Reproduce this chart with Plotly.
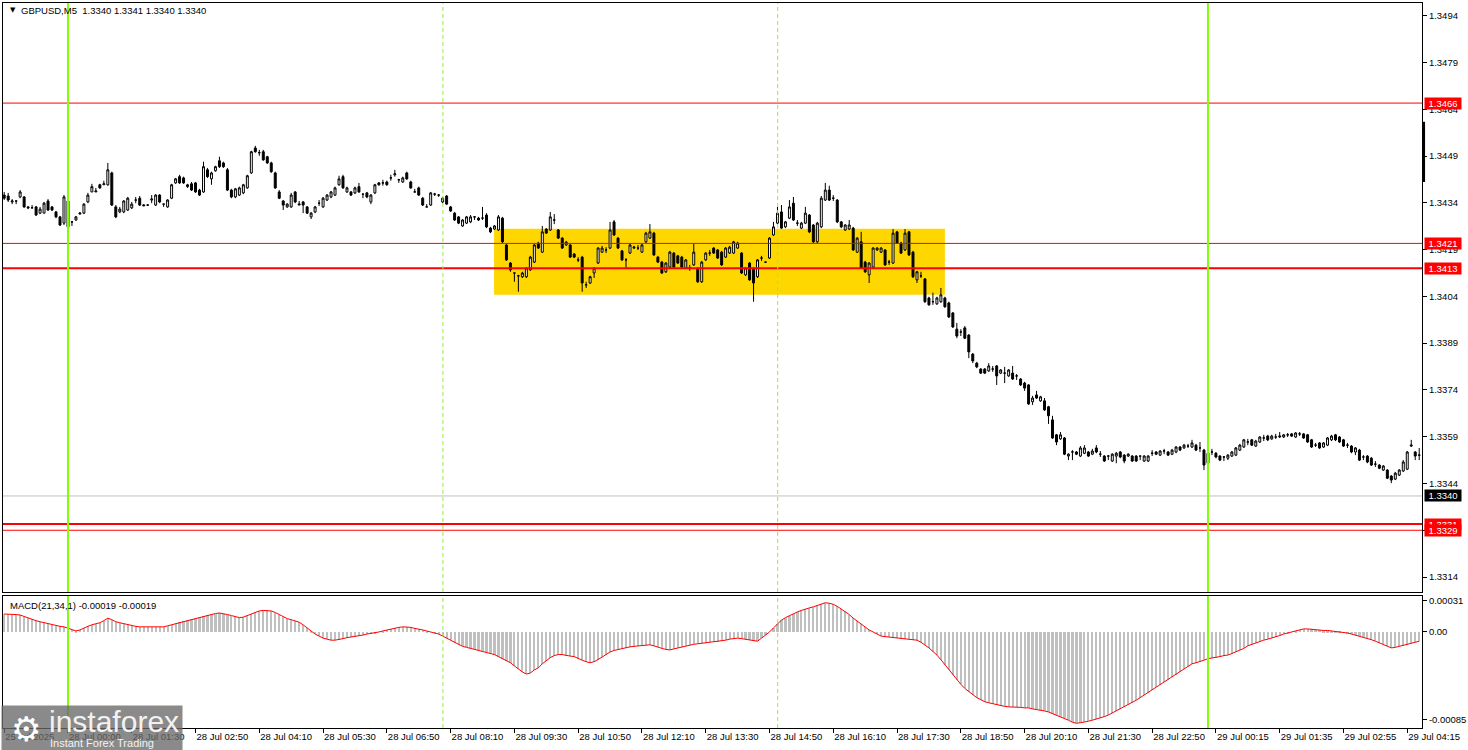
import plotly.graph_objects as go

# ---------------- data (prices in points of 0.00001) ----------------
opens_pts = [
134365,134362,134343,134346,134359,134359,134327,134324,134327,134307,134307,134346,134327,134311,134295,134275,
134346,134279,134285,134304,134307,134343,134375,134375,134398,134398,134398,134436,134327,134311,134311,134317,
134324,134349,134355,134330,134333,134349,134333,134365,134336,134327,134355,134404,134424,134420,134392,134401,
134404,134381,134375,134446,134417,134443,134475,134468,134446,134381,134359,134365,134372,134388,134436,134516,
134501,134504,134488,134468,134436,134375,134346,134327,134327,134375,134333,134343,134327,134295,134311,134339,
134327,134349,134359,134365,134398,134424,134375,134375,134372,134392,134368,134372,134343,134372,134404,134404,
134407,134420,134430,134414,134407,134436,134407,134375,134388,134355,134327,134333,134368,134365,134343,134362,
134327,134307,134295,134266,134275,134279,134295,134291,134291,134301,134259,134256,134253,134291,134205,134147,
134115,134106,134103,134103,134125,134150,134211,134182,134256,134253,134285,134253,134227,134205,134205,134176,
134157,134166,134077,134083,134115,134147,134182,134189,134195,134279,134227,134186,134157,134179,134195,134195,
134182,134215,134227,134243,134166,134150,134119,134134,134179,134170,134166,134131,134131,134141,134131,134087,
134157,134179,134195,134189,134182,134166,134179,134179,134195,134179,134109,134147,134131,134103,134163,134150,
134163,134237,134275,134311,134263,134291,134339,134275,134259,134275,134301,134269,134215,134263,134349,134381,
134355,134349,134279,134253,134256,134259,134182,134215,134150,134109,134134,134189,134182,134189,134150,134147,
134247,134211,134189,134247,134182,134093,134106,134096,134035,134023,134016,134023,134035,134019,133987,133935,
133926,133939,133916,133855,133826,133807,133807,133801,133807,133817,133794,133794,133785,133794,133785,133775,
133762,133756,133702,133724,133705,133705,133686,133644,133596,133583,133586,133528,133541,133541,133528,133537,
133541,133534,133554,133534,133528,133528,133512,133528,133541,133531,133528,133528,133528,133528,133512,133512,
133537,133541,133531,133544,133541,133534,133541,133557,133554,133560,133557,133563,133554,133547,133505,133541,
133537,133528,133525,133521,133528,133531,133547,133557,133573,133580,133560,133573,133586,133592,133583,133589,
133589,133589,133596,133599,133589,133599,133599,133596,133580,133563,133570,133557,133563,133580,133596,133589,
133580,133563,133560,133541,133547,133525,133528,133521,133502,133499,133483,133483,133464,133454,133467,133480,
133486,133560,133541,133531]

highs_pts = [
134375,134372,134352,134346,134381,134362,134330,134333,134330,134327,134343,134352,134330,134314,134298,134365,
134355,134282,134298,134311,134339,134372,134401,134388,134401,134411,134468,134440,134333,134327,134349,134359,
134343,134359,134362,134336,134336,134365,134368,134368,134336,134352,134401,134420,134430,134424,134401,134407,
134407,134385,134472,134452,134440,134459,134488,134472,134452,134385,134388,134392,134401,134430,134507,134523,
134510,134510,134491,134472,134440,134381,134349,134339,134372,134378,134346,134346,134330,134311,134330,134349,
134359,134368,134378,134392,134427,134430,134392,134378,134392,134404,134368,134375,134368,134401,134407,134414,
134411,134430,134446,134417,134424,134440,134411,134385,134392,134359,134336,134375,134372,134368,134359,134365,
134330,134311,134298,134288,134298,134301,134298,134295,134327,134307,134263,134269,134301,134295,134208,134150,
134115,134109,134119,134134,134170,134208,134215,134266,134259,134311,134304,134256,134230,134218,134208,134179,
134166,134170,134087,134106,134134,134198,134202,134198,134279,134285,134230,134189,134163,134211,134202,134205,
134208,134247,134272,134247,134170,134154,134150,134186,134182,134173,134170,134160,134141,134211,134134,134154,
134182,134189,134198,134192,134186,134198,134202,134218,134215,134182,134134,134150,134134,134160,134170,134150,
134230,134279,134327,134333,134282,134349,134359,134285,134279,134327,134304,134272,134279,134362,134404,134395,
134365,134352,134282,134272,134285,134263,134230,134247,134154,134150,134198,134198,134198,134192,134157,134256,
134250,134215,134256,134250,134186,134122,134119,134099,134039,134052,134039,134067,134039,134023,133990,133955,
133935,133945,133919,133858,133830,133810,133810,133826,133817,133820,133807,133814,133807,133817,133791,133778,
133766,133759,133721,133737,133721,133714,133689,133657,133599,133605,133589,133537,133547,133544,133560,133563,
133544,133551,133563,133544,133531,133531,133537,133541,133544,133534,133537,133531,133531,133528,133531,133531,
133547,133544,133547,133551,133544,133551,133560,133560,133567,133567,133580,133567,133573,133551,133541,133551,
133541,133531,133528,133534,133544,133557,133567,133583,133583,133583,133580,133592,133596,133596,133596,133599,
133605,133599,133602,133602,133605,133605,133602,133599,133583,133570,133573,133573,133589,133596,133599,133592,
133583,133570,133563,133557,133551,133531,133531,133525,133512,133502,133499,133486,133467,133477,133486,133515,
133544,133580,133544,133554]

lows_pts = [
134349,134343,134336,134336,134355,134324,134320,134324,134298,134304,134307,134314,134314,134291,134266,134269,
134259,134266,134282,134304,134304,134339,134375,134375,134385,134398,134395,134330,134291,134307,134307,134314,
134320,134339,134330,134330,134330,134339,134330,134339,134327,134324,134352,134401,134401,134401,134388,134378,
134372,134362,134372,134420,134398,134440,134452,134452,134378,134355,134355,134362,134368,134385,134433,134501,
134491,134475,134465,134436,134385,134352,134317,134324,134324,134339,134333,134307,134304,134288,134307,134330,
134324,134346,134355,134362,134395,134385,134372,134362,134368,134372,134355,134355,134336,134368,134395,134395,
134395,134411,134424,134404,134404,134414,134385,134375,134362,134330,134327,134330,134362,134359,134339,134333,
134311,134282,134272,134263,134272,134275,134285,134282,134285,134259,134243,134253,134250,134211,134154,134119,
134087,134055,134099,134099,134122,134147,134192,134179,134240,134250,134272,134224,134192,134202,134163,134163,
134150,134055,134067,134080,134099,134144,134179,134179,134192,134234,134192,134154,134131,134176,134192,134189,
134179,134211,134224,134170,134147,134112,134115,134131,134131,134144,134131,134128,134122,134138,134083,134083,
134154,134170,134176,134160,134138,134163,134176,134176,134192,134112,134106,134090,134023,134099,134154,134147,
134160,134234,134272,134256,134259,134288,134282,134266,134256,134272,134243,134211,134211,134259,134346,134346,
134346,134275,134259,134250,134253,134186,134179,134128,134115,134083,134131,134186,134179,134138,134141,134144,
134208,134176,134186,134170,134099,134083,134099,134019,134010,134013,134013,134019,134003,133971,133939,133906,
133913,133903,133842,133826,133810,133791,133791,133798,133798,133756,133791,133762,133782,133772,133772,133753,
133737,133692,133692,133711,133702,133673,133631,133583,133563,133580,133531,133515,133515,133531,133525,133534,
133525,133531,133537,133525,133509,133515,133509,133505,133521,133505,133525,133509,133509,133515,133509,133509,
133528,133531,133528,133534,133528,133531,133537,133544,133551,133554,133554,133544,133541,133483,133502,133531,
133521,133512,133512,133515,133525,133528,133544,133554,133563,133560,133557,133570,133576,133576,133580,133583,
133586,133586,133589,133589,133586,133592,133583,133570,133554,133557,133551,133554,133560,133576,133576,133570,
133557,133554,133537,133531,133512,133515,133505,133496,133493,133486,133480,133454,133441,133451,133464,133477,
133483,133557,133515,133515]

closes_pts = [
134355,134349,134346,134346,134375,134327,134324,134324,134301,134320,134339,134317,134317,134295,134269,134359,
134263,134279,134295,134307,134336,134365,134392,134378,134388,134401,134446,134333,134295,134320,134346,134355,
134336,134349,134333,134333,134333,134352,134365,134343,134336,134349,134398,134417,134404,134404,134398,134381,
134375,134365,134456,134424,134436,134456,134456,134456,134381,134359,134385,134388,134398,134427,134504,134504,
134501,134478,134468,134440,134388,134355,134333,134336,134365,134343,134336,134333,134307,134307,134327,134339,
134355,134365,134375,134388,134417,134388,134388,134365,134388,134375,134368,134359,134365,134398,134398,134404,
134398,134420,134433,134414,134420,134417,134388,134375,134365,134333,134327,134372,134368,134365,134355,134336,
134314,134285,134275,134285,134295,134295,134295,134285,134291,134263,134247,134266,134295,134215,134157,134125,
134115,134106,134115,134131,134166,134205,134195,134247,134243,134295,134285,134227,134195,134214,134166,134166,
134157,134083,134077,134103,134131,134195,134195,134189,134253,134237,134195,134157,134157,134205,134198,134195,
134205,134243,134247,134173,134150,134115,134147,134182,134134,134147,134134,134157,134131,134182,134087,134150,
134179,134179,134179,134163,134141,134195,134198,134215,134211,134115,134131,134093,134083,134157,134163,134150,
134227,134263,134307,134259,134279,134327,134285,134275,134275,134307,134247,134215,134275,134355,134381,134349,
134355,134279,134263,134269,134269,134189,134227,134131,134119,134147,134195,134195,134195,134141,134150,134243,
134211,134179,134243,134173,134103,134119,134106,134023,134013,134023,134035,134045,134007,133974,133942,133913,
133926,133906,133862,133833,133814,133794,133794,133817,133807,133785,133804,133794,133804,133775,133785,133756,
133746,133695,133714,133714,133718,133676,133657,133586,133573,133596,133534,133534,133541,133534,133554,133554,
133528,133544,133541,133534,133512,133528,133534,133537,133525,133512,133534,133512,133512,133528,133528,133528,
133537,133534,133544,133544,133531,133547,133557,133547,133563,133560,133570,133547,133554,133499,133537,133541,
133525,133515,133525,133531,133541,133554,133563,133580,133573,133563,133576,133589,133586,133580,133592,133589,
133592,133596,133596,133592,133602,133599,133586,133573,133557,133563,133554,133570,133586,133592,133580,133573,
133560,133563,133541,133554,133515,133525,133509,133499,133502,133489,133496,133457,133451,133473,133483,133509,
133541,133563,133528,133531]

# MACD(21,34,1) in units of 0.00001
macd_pts = [
17.5,17.5,17,17,16.5,15,14,12.5,11,10,9,8,7,6,5.5,5,
3.5,2,1,2,4,5.5,7,8,9,11,13.5,12,10,9,8,7,
6,5.5,5,5,5,5,5,5,5,6,7,8.5,9.5,10.5,11.5,12.5,
13.5,14.5,15.5,16.5,17,18,18.5,18,17,16,15,14,14.5,16,18,19.5,
20.5,21,21,20.5,19,17,14.5,13,12,11,9.5,7,4,1,-2,-4,
-6,-7,-8,-8,-7.5,-6.5,-5.5,-5,-4,-3.5,-3,-2,-1.5,-1,0,1,
2,3,4,4.5,5,5,4.5,3.5,3,2,1,0,-1,-2,-4,-6,
-8,-10.5,-12.5,-14,-15,-16,-17,-18,-18.5,-19.5,-20.5,-22,-24,-26,-28,-30,
-33,-36,-39,-41,-40,-37,-35,-31,-28,-25,-23,-22,-22,-23,-23.5,-24,
-26,-27.5,-29,-30,-29,-27,-24.5,-22,-19.5,-18,-17,-16,-15.5,-14.5,-14,-13.5,
-13,-13,-12.5,-13.5,-15,-16,-17,-17.5,-16.5,-15.5,-14.5,-13.5,-12.5,-12,-11.5,-11,
-10.5,-10,-10,-9.5,-9,-8,-7,-6.5,-6,-6.5,-7,-7.5,-8.5,-9,-6,-3,
0,4,8,11.5,14,16,18,19.5,21,22.5,23.5,24.5,26,27.5,28.5,28,
27,25,22.5,20,17,13.5,10.5,8,5,2,0,-2,-4,-4.5,-5,-5.5,
-6,-6.5,-7,-7,-7.5,-8,-10,-12.5,-15.5,-19,-22.5,-27,-32,-37,-42,-47,
-51,-55,-58,-61,-64,-66,-68,-69,-70,-71,-72,-72.5,-73,-73,-73,-73.5,
-74,-74,-75,-75.5,-76,-77,-78,-79.5,-81,-82.5,-84,-86,-88,-89,-88.5,-88,
-87,-86,-85,-84,-82.5,-81,-79,-77,-75,-73,-71,-69,-66.5,-64,-61.5,-59,
-56.5,-54,-51.5,-49,-46.5,-44,-41.5,-39,-36.5,-34,-31,-30,-29,-27.5,-26,-25.5,
-25,-24,-23,-22.5,-21,-19.5,-18,-16,-13.5,-12,-10.5,-9.5,-8,-7,-6,-5,
-3.5,-2,-1,0,1,2,3,3,2.5,2,2,1.5,1.5,1,1,0.5,
0,-1,-2,-3,-4,-5,-6,-7.5,-9,-10.5,-12,-14,-15.5,-15,-14,-13.5,
-12.5,-11,-10,-9]

time_tick_bars = [0,16,32,48,64,80,96,112,128,144,160,176,192,208,224,240,256,272,288,304,320,336,352]
time_tick_labels = ["25 Jul 2025","28 Jul 00:00","28 Jul 01:30","28 Jul 02:50","28 Jul 04:10","28 Jul 05:30",
                    "28 Jul 06:50","28 Jul 08:10","28 Jul 09:30","28 Jul 10:50","28 Jul 12:10","28 Jul 13:30",
                    "28 Jul 14:50","28 Jul 16:10","28 Jul 17:30","28 Jul 18:50","28 Jul 20:10","28 Jul 21:30",
                    "28 Jul 22:50","29 Jul 00:15","29 Jul 01:35","29 Jul 02:55","29 Jul 04:15"]
price_ticks = [1.3494,1.3479,1.3464,1.3449,1.3434,1.3419,1.3404,1.3389,1.3374,1.3359,1.3344,1.3329,1.3314]
macd_ticks = [0.00031,0.0,-0.00085]
macd_tick_labels = ["0.00031","0.00","-0.00085"]

red_levels = [1.3466,1.3421,1.3413,1.3331,1.3329]
red_widths = [1,1,2,2,1]
bid_price = 1.3340
zone_bars = [122.9, 236.0]
zone_prices = [1.34045, 1.34257]
day_lines = [16, 302]
session_lines = [110, 194]

# ---------------- figure ----------------
n = len(closes_pts)
xs = list(range(n))
opens = [v / 1e5 for v in opens_pts]
highs = [v / 1e5 for v in highs_pts]
lows = [v / 1e5 for v in lows_pts]
closes = [v / 1e5 for v in closes_pts]
macd = [v * 1e-5 for v in macd_pts]

FONT = "Liberation Sans"
fig = go.Figure()
fig.add_trace(go.Candlestick(
    x=xs, open=opens, high=highs, low=lows, close=closes,
    xaxis="x", yaxis="y", whiskerwidth=0,
    increasing=dict(line=dict(color="black", width=1), fillcolor="white"),
    decreasing=dict(line=dict(color="black", width=1), fillcolor="black"),
    hoverinfo="skip", showlegend=False))
fig.add_trace(go.Bar(x=xs, y=macd, xaxis="x2", yaxis="y2", width=0.55,
                     marker=dict(color="#C0C0C0", line=dict(width=0)),
                     hoverinfo="skip", showlegend=False))
fig.add_trace(go.Scatter(x=xs, y=macd, xaxis="x2", yaxis="y2", mode="lines",
                         line=dict(color="#FF0000", width=1),
                         hoverinfo="skip", showlegend=False))

xr = [-0.3, 355.7]
main_dom = [0.1876, 1.0]
macd_dom = [0.0, 0.1821]
tf = dict(family=FONT, size=9.5, color="black")

fig.update_layout(
    width=1468, height=750,
    margin=dict(l=2, r=42, t=3, b=22),
    paper_bgcolor="white", plot_bgcolor="white",
    font=dict(family=FONT, size=10, color="black"),
    showlegend=False, bargap=0,
    xaxis=dict(domain=[0, 1], anchor="y", range=xr, showline=True, mirror=True,
               linecolor="black", linewidth=1, ticks="", showticklabels=False,
               showgrid=False, zeroline=False, rangeslider=dict(visible=False),
               fixedrange=True),
    yaxis=dict(domain=main_dom, anchor="x", side="right", range=[1.33092, 1.34981],
               tickvals=price_ticks, ticktext=["%.4f" % v for v in price_ticks],
               ticks="outside", ticklen=4, tickcolor="black", tickfont=tf,
               showline=True, mirror=True, linecolor="black", linewidth=1,
               showgrid=False, zeroline=False, fixedrange=True),
    xaxis2=dict(domain=[0, 1], anchor="y2", range=xr, showline=True, mirror=True,
                linecolor="black", linewidth=1, tickvals=time_tick_bars,
                ticktext=time_tick_labels, ticks="outside", ticklen=4, tickcolor="black",
                ticklabelposition="outside right", tickfont=tf,
                showgrid=False, zeroline=False, fixedrange=True),
    yaxis2=dict(domain=macd_dom, anchor="x2", side="right", range=[-0.000936, 0.000351],
                tickvals=macd_ticks, ticktext=macd_tick_labels,
                ticks="outside", ticklen=4, tickcolor="black", tickfont=tf,
                showline=True, mirror=True, linecolor="black", linewidth=1,
                showgrid=False, zeroline=False, fixedrange=True),
)

shapes = []
shapes.append(dict(type="rect", xref="x", yref="y", x0=zone_bars[0], x1=zone_bars[1],
                   y0=zone_prices[0], y1=zone_prices[1], fillcolor="#FFD700",
                   line=dict(width=0), layer="below"))
shapes.append(dict(type="line", xref="x domain", yref="y", x0=0, x1=1, y0=bid_price, y1=bid_price,
                   line=dict(color="#C0C0C0", width=1), layer="above"))
for lv, w in zip(red_levels, red_widths):
    shapes.append(dict(type="line", xref="x domain", yref="y", x0=0, x1=1, y0=lv, y1=lv,
                       line=dict(color="#FF0000", width=w), layer="above"))
for b in session_lines:
    for xa, ya in (("x", "y domain"), ("x2", "y2 domain")):
        shapes.append(dict(type="line", xref=xa, yref=ya, x0=b + 0.06, x1=b + 0.06, y0=0, y1=1,
                           line=dict(color="#9BE84A", width=1, dash="4px,3px"), layer="above"))
for b in day_lines:
    for xa, ya in (("x", "y domain"), ("x2", "y2 domain")):
        shapes.append(dict(type="line", xref=xa, yref=ya, x0=b, x1=b, y0=0, y1=1,
                           line=dict(color="#7FFF00", width=2), layer="above"))
# marker on the price scale
shapes.append(dict(type="line", xref="paper", yref="y", x0=1.0011, x1=1.0011,
                   y0=1.34407, y1=1.34600, line=dict(color="black", width=3)))
fig.update_layout(shapes=shapes)

ann = []
def price_label(p, bg):
    return dict(xref="paper", yref="y", x=1, xshift=2, y=p, xanchor="left", yanchor="middle",
                text="%.4f" % p, showarrow=False, bgcolor=bg, borderpad=0,
                width=36, height=11, align="center",
                font=dict(family=FONT, size=9.5, color="white"))
for lv in red_levels:
    ann.append(price_label(lv, "#FF0000"))
ann.append(price_label(bid_price, "#000000"))

ann.append(dict(xref="paper", yref="paper", x=0.0032, y=0.9985, xanchor="left", yanchor="top",
                text="▼", showarrow=False, font=dict(family="DejaVu Sans", size=7, color="black")))
ann.append(dict(xref="paper", yref="paper", x=0.011, y=0.9995, xanchor="left", yanchor="top",
                text="GBPUSD,M5  1.3340 1.3341 1.3340 1.3340", showarrow=False,
                font=dict(family=FONT, size=9.5, color="black")))
ann.append(dict(xref="paper", yref="y2 domain", x=0.0035, y=1, yshift=-2, xanchor="left", yanchor="top",
                text="MACD(21,34,1) -0.00019 -0.00019", showarrow=False,
                font=dict(family=FONT, size=9.5, color="black")))
# instaforex logo (overlays the first time labels, as in the source chart)
ann.append(dict(xref="paper", yref="paper", x=-0.0014, y=0.0317, xanchor="left", yanchor="top",
                text=" ", showarrow=False, width=180, height=45, bgcolor="rgba(105,105,105,0.78)",
                borderpad=0, font=dict(size=10)))
ann.append(dict(xref="paper", yref="paper", x=0.004, y=0.029, xanchor="left", yanchor="top",
                text="⚙", showarrow=False, font=dict(family="DejaVu Sans", size=34, color="white")))
ann.append(dict(xref="paper", yref="paper", x=0.031, y=0.034, xanchor="left", yanchor="top",
                text="instaforex", showarrow=False, font=dict(family=FONT, size=30, color="#F2F2F2")))
ann.append(dict(xref="paper", yref="paper", x=0.032, y=-0.009, xanchor="left", yanchor="top",
                text="Instant Forex Trading", showarrow=False, font=dict(family=FONT, size=11, color="#F2F2F2")))
fig.update_layout(annotations=ann)

fig.write_html("out.html", config={"displayModeBar": False},
               post_script="document.body.style.margin='0';document.body.style.overflow='hidden';")
